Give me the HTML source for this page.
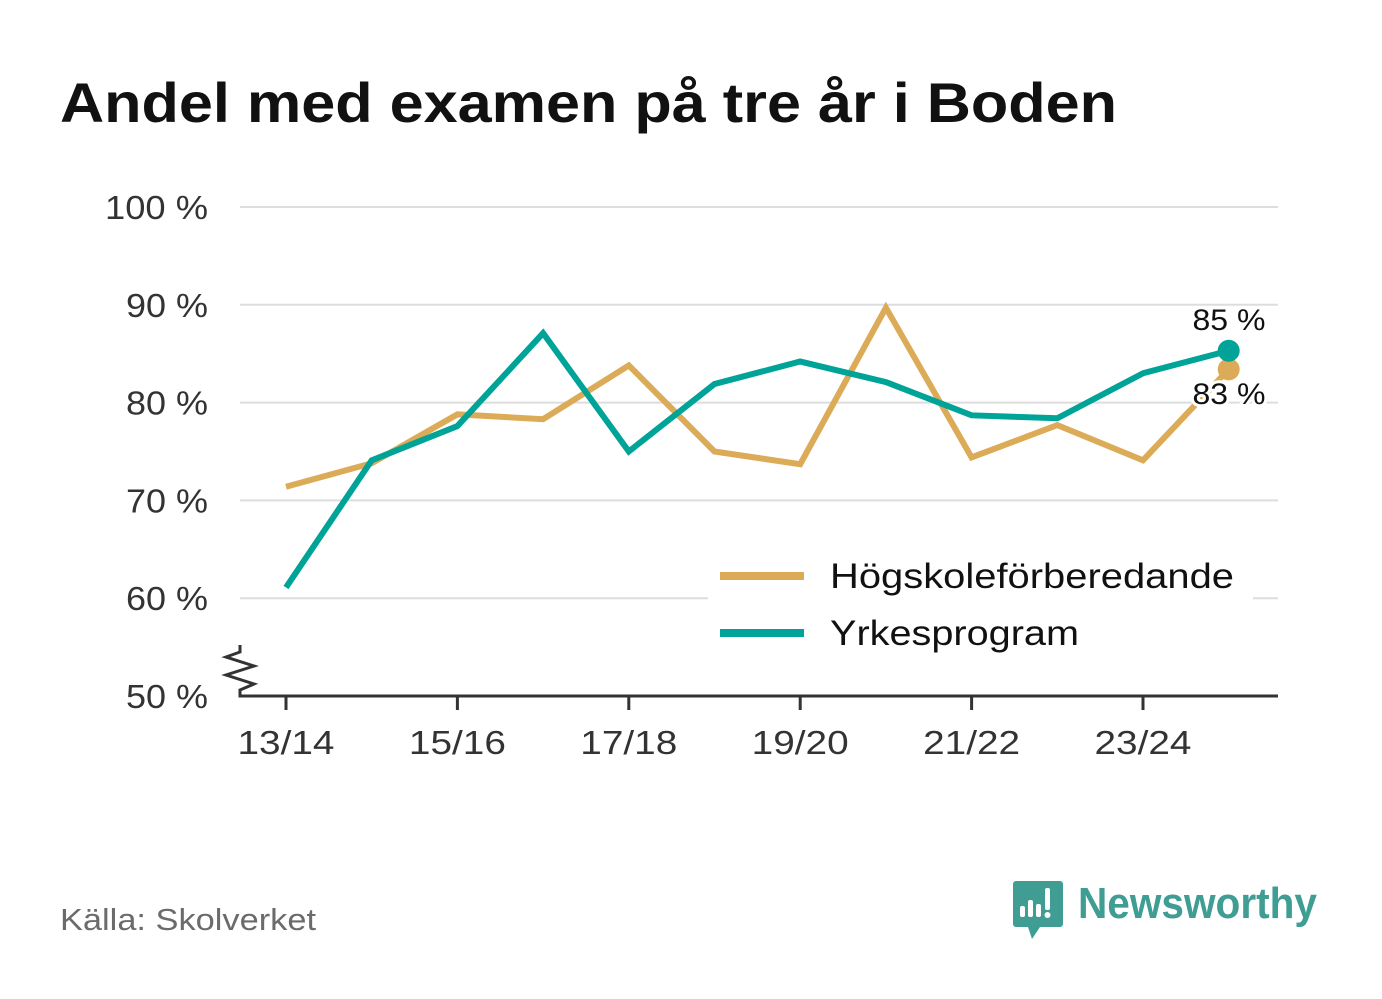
<!DOCTYPE html>
<html><head><meta charset="utf-8"><style>
body{margin:0;width:1382px;height:999px;background:#fff;font-family:"Liberation Sans",sans-serif;overflow:hidden;position:relative}
</style></head><body>
<svg id="c" width="1382" height="999" xmlns="http://www.w3.org/2000/svg" style="position:absolute;left:0;top:0">
<text x="60" y="122" font-size="56" font-weight="bold" fill="#111" textLength="1057" lengthAdjust="spacingAndGlyphs">Andel med examen på tre år i Boden</text>
<text x="60" y="930" font-size="31" fill="#6b6b6b" textLength="256" lengthAdjust="spacingAndGlyphs">Källa: Skolverket</text>
<g>
<path d="M1016 881 h44 a3 3 0 0 1 3 3 v40 a3 3 0 0 1 -3 3 h-20 l-8 12 l-4 -12 h-12 a3 3 0 0 1 -3 -3 v-40 a3 3 0 0 1 3 -3z" fill="#3f9d94"/>
<rect x="1020" y="906" width="5" height="11" rx="2" fill="#fff"/><rect x="1028" y="900" width="5" height="17" rx="2" fill="#fff"/><rect x="1036" y="904" width="5" height="13" rx="2" fill="#fff"/><rect x="1045" y="888" width="5" height="22" rx="2" fill="#fff"/><circle cx="1047.5" cy="915" r="3" fill="#fff"/>
<text x="1078" y="918" font-size="44" font-weight="bold" fill="#3f9d94" textLength="239" lengthAdjust="spacingAndGlyphs">Newsworthy</text>
</g>
<g id="grid"></g><g id="lines"></g>
</svg>
<script>
const categories=["13/14","14/15","15/16","16/17","17/18","18/19","19/20","20/21","21/22","22/23","23/24","24/25"];
const hogskole=[71.4,73.8,78.8,78.3,83.8,75.0,73.7,89.7,74.4,77.7,74.1,83.4];
const yrkes=[61.1,74.1,77.6,87.1,75.0,81.9,84.2,82.1,78.7,78.4,83.0,85.3];
const yTicks=[50,60,70,80,90,100];
const NS="http://www.w3.org/2000/svg";
const x=i=>286+i*85.7;
const y=v=>696-(v-50)*9.78;
function mk(t,a,p){const e=document.createElementNS(NS,t);for(const k in a)e.setAttribute(k,a[k]);p.appendChild(e);return e;}
const g=document.getElementById('grid'),L=document.getElementById('lines');
yTicks.forEach(v=>{
 if(v>50){const l=mk('line',{x1:240,x2:1278,y1:y(v),y2:y(v),stroke:'#dddddd','stroke-width':2},g);
 
 }
 const a={x:208,y:y(v)+12,'font-size':33,fill:'#333','text-anchor':'end'};
 a.textLength=v>=100?103:82;a.lengthAdjust='spacingAndGlyphs';
 const t=mk('text',a,g);t.textContent=v+' %';
 
 
});
const ax=mk('path',{d:'M240 645 V652 L226 657 L254 666 L226 675 L254 684 L240 690 V696 H1278',fill:'none',stroke:'#333','stroke-width':3},g);


categories.forEach((c,i)=>{if(i%2)return;
 const tk=mk('line',{x1:x(i),x2:x(i),y1:696,y2:710,stroke:'#333','stroke-width':3},g);
 
 
 const t=mk('text',{x:x(i),y:754,'font-size':33,fill:'#333','text-anchor':'middle',textLength:97,lengthAdjust:'spacingAndGlyphs'},g);t.textContent=c;
 
 
});
function series(d,col,name){
 const p=mk('polyline',{points:d.map((v,i)=>x(i)+','+y(v)).join(' '),fill:'none',stroke:col,'stroke-width':6,'stroke-linejoin':'miter'},L);
 
 
 const n=d.length-1;
 const c=mk('circle',{cx:x(n),cy:y(d[n]),r:11,fill:col},L);
 
 
}
series(hogskole,'#dbab57','hogskole');
series(yrkes,'#00a397','yrkes');
function lab(v,yy,name){const t=mk('text',{x:1229,y:yy,'font-size':30,fill:'#111','text-anchor':'middle',stroke:'#fff','stroke-width':6,'paint-order':'stroke',textLength:73,lengthAdjust:'spacingAndGlyphs'},L);t.textContent=Math.round(v)+' %';
 
 }
lab(yrkes[11],330,'yrkes-end-label');lab(hogskole[11],404,'hogskole-end-label');
const bg=mk('rect',{x:708,y:545,width:545,height:120,fill:'#fff'},L);


[['Högskoleförberedande','#dbab57',576,404],['Yrkesprogram','#00a397',633,249]].forEach(([n,c,yy,w])=>{
 const l=mk('line',{x1:720,x2:804,y1:yy,y2:yy,stroke:c,'stroke-width':8},L);
 
 
 const t=mk('text',{x:830,y:yy+12,'font-size':35,fill:'#111',textLength:w,lengthAdjust:'spacingAndGlyphs'},L);t.textContent=n;
 
 
});
</script>
</body></html>
